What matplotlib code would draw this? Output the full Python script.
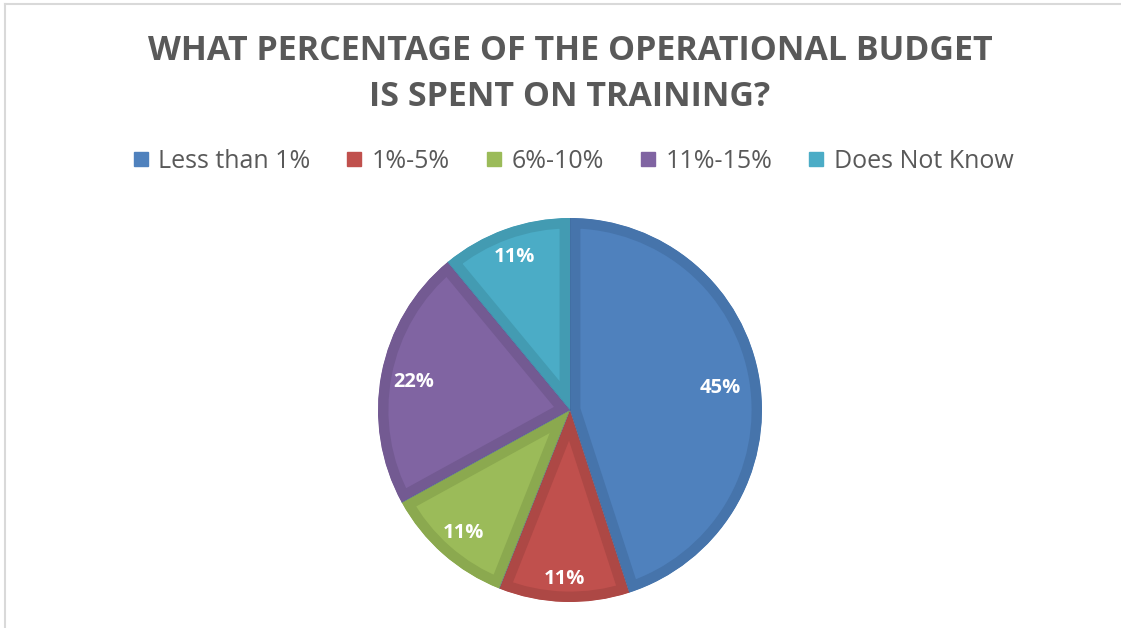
import numpy as np
import matplotlib
matplotlib.use("Agg")
import matplotlib.pyplot as plt
from matplotlib.lines import Line2D

# data
categories = ["Less than 1%", "1%-5%", "6%-10%", "11%-15%", "Does Not Know"]
shares = [45, 11, 11, 22, 11]
fill_colors = ["#4F81BD", "#C0504D", "#9BBB59", "#8064A2", "#4BACC6"]
edge_colors = ["#4674AB", "#AD4845", "#8BA94F", "#735A92", "#439BB2"]
label_dist = [0.79, 0.87, 0.84, 0.83, 0.86]

title = "WHAT PERCENTAGE OF THE OPERATIONAL BUDGET\nIS SPENT ON TRAINING?"
grey = "#595959"

plt.rcParams["font.family"] = ["Open Sans", "DejaVu Sans"]

W, H = 1121, 628
fig = plt.figure(figsize=(W / 100, H / 100), dpi=100)
fig.patch.set_facecolor("white")

# pie axes: centre (570, 410), radius 192 px
cx, cy, r = 570, 410, 192
ax = fig.add_axes([(cx - r) / W, 1 - (cy + r) / H, 2 * r / W, 2 * r / H])
wedges, _ = ax.pie(shares, colors=fill_colors, startangle=90, counterclock=False,
                   radius=1.0, wedgeprops=dict(linewidth=0))
ax.set_xlim(-1, 1)
ax.set_ylim(-1, 1)
ax.set_aspect("equal")
ax.axis("off")

# darker inner border for each slice (stroke clipped to the slice itself)
for w, ec in zip(wedges, edge_colors):
    w.set_edgecolor(ec)
    w.set_linewidth(15)
    w.set_joinstyle("miter")
    w.set_clip_on(True)
    w.set_clip_path(w)

# thin separator lines between slices
for w in wedges:
    for ang in (w.theta1, w.theta2):
        t = np.deg2rad(ang)
        ax.plot([0, np.cos(t)], [0, np.sin(t)], color="#3F6A9C", lw=0.4, alpha=0.4)

# percentage labels
for w, val, d in zip(wedges, shares, label_dist):
    mid = np.deg2rad((w.theta1 + w.theta2) / 2)
    ax.text(d * np.cos(mid), d * np.sin(mid) - 0.01, f"{val}%", color="white",
            fontsize=14.5, fontweight="bold", ha="center", va="center")

fig.text(cx / W, 1 - 74 / H, title, ha="center", va="center", fontsize=24.5,
         fontweight="bold", color=grey, linespacing=1.5)

handles = [Line2D([], [], marker="s", linestyle="none", markersize=9.5,
                  markerfacecolor=c, markeredgecolor=c) for c in fill_colors]
fig.legend(handles, categories, loc="center", bbox_to_anchor=(572 / W, 1 - 161 / H),
           ncol=5, frameon=False, fontsize=18, labelcolor=grey,
           handletextpad=0.3, columnspacing=1.36, handlelength=0.8)

# chart area frame (left and top edges only)
fig.add_artist(Line2D([5 / W, 5 / W], [0, 1 - 4 / H], color="#D9D9D9", lw=1.5))
fig.add_artist(Line2D([5 / W, 1], [1 - 4 / H, 1 - 4 / H], color="#D9D9D9", lw=1.5))

fig.savefig("out.png", dpi=100, facecolor="white")
